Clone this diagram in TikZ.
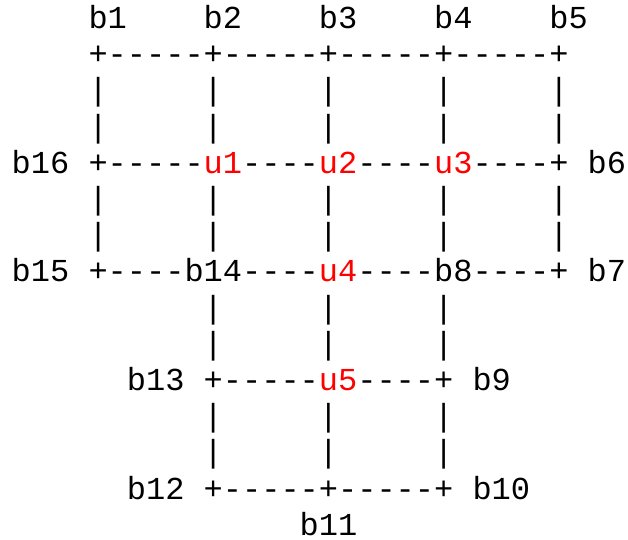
\documentclass[tikz,border=0pt]{standalone}
\usepackage{fontspec}
\setmonofont{Liberation Mono}
\begin{document}
\begin{tikzpicture}[x=1pt,y=-1pt,
  tok/.style={anchor=base west,inner sep=0pt,outer sep=0pt,font=\ttfamily\fontsize{32}{36}\selectfont,text=black},
  unode/.style={text=red}]
\useasboundingbox[fill=white] (0,0) rectangle (628,539);
\newcommand\tk[5][]{\node[tok,#1] (#2) at ({11.7+#3*19.2},{28.5+#4*36.2}) {#5};}
% row 0
\tk{b1}{4}{0}{b1}
\tk{b2}{10}{0}{b2}
\tk{b3}{16}{0}{b3}
\tk{b4}{22}{0}{b4}
\tk{b5}{28}{0}{b5}
% row 1
\tk{r1}{4}{1}{+-----+-----+-----+-----+}
% rows 2,3
\foreach \r in {2,3,5,6}{
  \foreach \c in {4,10,16,22,28}{
    \tk{v\r-\c}{\c}{\r}{|}
  }
}
% row 4
\tk{b16}{0}{4}{b16}
\tk{r4a}{4}{4}{+-----}
\tk[unode]{u1}{10}{4}{u1}
\tk{r4b}{12}{4}{----}
\tk[unode]{u2}{16}{4}{u2}
\tk{r4c}{18}{4}{----}
\tk[unode]{u3}{22}{4}{u3}
\tk{r4d}{24}{4}{----+}
\tk{b6}{30}{4}{b6}
% row 7
\tk{b15}{0}{7}{b15}
\tk{r7a}{4}{7}{+----}
\tk{b14}{9}{7}{b14}
\tk{r7b}{12}{7}{----}
\tk[unode]{u4}{16}{7}{u4}
\tk{r7c}{18}{7}{----}
\tk{b8}{22}{7}{b8}
\tk{r7d}{24}{7}{----+}
\tk{b7}{30}{7}{b7}
% rows 8,9,11,12
\foreach \r in {8,9,11,12}{
  \foreach \c in {10,16,22}{
    \tk{w\r-\c}{\c}{\r}{|}
  }
}
% row 10
\tk{b13}{6}{10}{b13}
\tk{r10a}{10}{10}{+-----}
\tk[unode]{u5}{16}{10}{u5}
\tk{r10b}{18}{10}{----+}
\tk{b9}{24}{10}{b9}
% row 13
\tk{b12}{6}{13}{b12}
\tk{r13}{10}{13}{+-----+-----+}
\tk{b10}{24}{13}{b10}
% row 14
\tk{b11}{15}{14}{b11}
\end{tikzpicture}
\end{document}
